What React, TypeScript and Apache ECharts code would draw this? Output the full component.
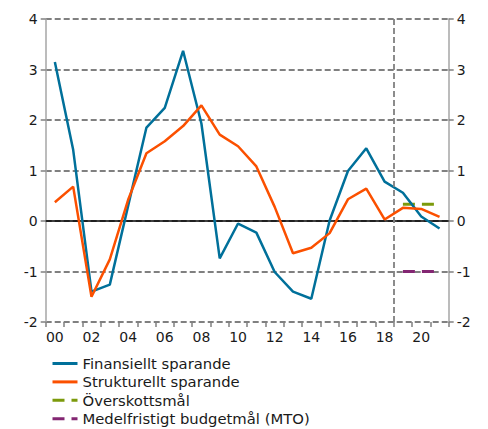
import React, { useEffect, useRef } from "react";
import * as echarts from "echarts";

const years = ["00","01","02","03","04","05","06","07","08","09","10","11","12","13","14","15","16","17","18","19","20","21"];
const financial = [3.15, 1.41, -1.40, -1.26, 0.30, 1.85, 2.24, 3.37, 1.93, -0.74, -0.05, -0.23, -1.01, -1.40, -1.54, 0.01, 0.99, 1.44, 0.78, 0.56, 0.09, -0.15];
const structural = [0.37, 0.68, -1.50, -0.76, 0.42, 1.34, 1.58, 1.88, 2.29, 1.71, 1.48, 1.08, 0.28, -0.64, -0.53, -0.24, 0.43, 0.64, 0.03, 0.26, 0.24, 0.08];
const surplusGoal = [null,null,null,null,null,null,null,null,null,null,null,null,null,null,null,null,null,null,null,0.33,0.33,0.33];
const mtoGoal = [null,null,null,null,null,null,null,null,null,null,null,null,null,null,null,null,null,null,null,-1,-1,-1];
const forecastStart = 19;
const yTicks = { min: -2, max: 4, interval: 1 };

const FONT = "DejaVu Sans";
const GRID = "#808080";
const TEXT = "#1a1a1a";

export default function App() {
  const ref = useRef<HTMLDivElement>(null);
  useEffect(() => {
    document.body.style.margin = "0";
    const chart = echarts.init(ref.current!, null, { renderer: "svg" });
    const yAxisBase = {
      type: "value" as const,
      min: yTicks.min,
      max: yTicks.max,
      interval: yTicks.interval,
      axisLine: { show: true, lineStyle: { color: "#a6a6a6", width: 1.5 } },
      axisTick: { show: true, length: 5, lineStyle: { color: GRID, width: 1.5 } },
      axisLabel: { color: TEXT, fontFamily: FONT, fontSize: 14, margin: 8 },
    };
    chart.setOption({
      animation: false,
      textStyle: { fontFamily: FONT },
      grid: { left: 45.7, right: 39.3, top: 19, bottom: 107, containLabel: false },
      legend: {
        orient: "vertical",
        left: 51,
        top: 356,
        height: 120,
        padding: 0,
        itemWidth: 25,
        itemHeight: 14,
        itemGap: 3.4,
        itemStyle: { opacity: 0 },
        lineStyle: { width: 3 },
        textStyle: { color: TEXT, fontFamily: FONT, fontSize: 14.8, lineHeight: 14 },
        data: [
          "Finansiellt sparande",
          "Strukturellt sparande",
          "Överskottsmål",
          "Medelfristigt budgetmål (MTO)",
        ],
      },
      xAxis: [
        {
          type: "category",
          data: years,
          boundaryGap: true,
          axisLine: { show: false, onZero: false },
          axisTick: { show: true, interval: 0, length: 5, lineStyle: { color: GRID, width: 1.5 } },
          axisLabel: { interval: 1, color: TEXT, fontFamily: FONT, fontSize: 14, margin: 8 },
          splitLine: { show: false },
        },
        {
          type: "value",
          min: 0,
          max: years.length,
          show: false,
        },
      ],
      yAxis: [
        {
          ...yAxisBase,
          position: "left",
          splitLine: { show: true, lineStyle: { color: GRID, width: 1.8, type: [6, 3] } },
        },
        {
          ...yAxisBase,
          position: "right",
          splitLine: { show: false },
        },
      ],
      series: [
        {
          name: "Finansiellt sparande",
          type: "line",
          data: financial,
          showSymbol: false,
          symbol: "none",
          lineStyle: { color: "#00709a", width: 2.5 },
          itemStyle: { color: "#00709a" },
          z: 4,
          markLine: {
            silent: true,
            symbol: "none",
            label: { show: false },
            lineStyle: { color: "#000000", width: 1.5, type: "solid" },
            data: [{ yAxis: 0 }],
            z: 1,
          },
        },
        {
          name: "Strukturellt sparande",
          type: "line",
          data: structural,
          showSymbol: false,
          symbol: "none",
          lineStyle: { color: "#fb5000", width: 2.5 },
          itemStyle: { color: "#fb5000" },
          z: 5,
        },
        {
          name: "Överskottsmål",
          type: "line",
          data: surplusGoal,
          showSymbol: false,
          symbol: "none",
          lineStyle: { color: "#7c9a0c", width: 3, type: [12, 7] },
          itemStyle: { color: "#7c9a0c" },
          z: 3,
        },
        {
          name: "Medelfristigt budgetmål (MTO)",
          type: "line",
          data: mtoGoal,
          showSymbol: false,
          symbol: "none",
          lineStyle: { color: "#832672", width: 3, type: [12, 7] },
          itemStyle: { color: "#832672" },
          z: 3,
        },
        {
          name: "forecast",
          type: "line",
          xAxisIndex: 1,
          yAxisIndex: 0,
          data: [],
          markLine: {
            silent: true,
            symbol: "none",
            label: { show: false },
            lineStyle: { color: GRID, width: 1.8, type: [6, 3] },
            data: [{ xAxis: forecastStart }],
          },
        },
      ],
    });
    return () => chart.dispose();
  }, []);
  return (
    <div
      ref={ref}
      style={{ position: "fixed", left: 0, top: 0, width: 488, height: 429, background: "#ffffff" }}
    />
  );
}
